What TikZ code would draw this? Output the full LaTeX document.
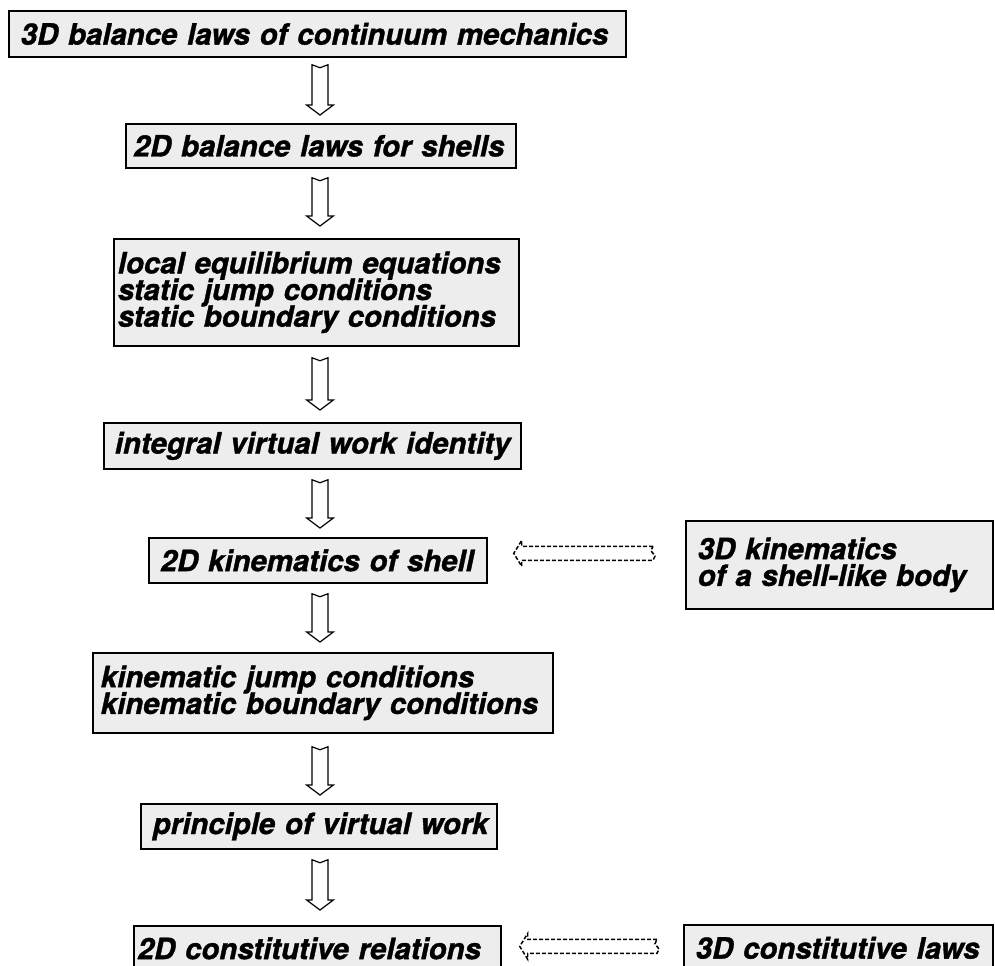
\documentclass[tikz,border=0pt]{standalone}
\usepackage{fontspec}
\setmainfont{TeX Gyre Heros}[BoldItalicFeatures={FakeBold=1.2}]
\usetikzlibrary{calc}
\newcommand\myboxfont{\fontsize{22}{20}\selectfont\lineskiplimit=-20pt\relax\bfseries\itshape}
\tikzset{
  box/.style n args={3}{draw=black, line width=1.3pt, fill=black!7,
    minimum width=#1*0.75pt, minimum height=#2*0.75pt,
    text width=(#1-2*#3)*0.75pt, inner xsep=#3*0.75pt, inner ysep=0pt,
    align=left, anchor=north west, font=\myboxfont},
  hollowdown/.style={draw=black, line width=0.9pt, fill=white,
    to path={let \p1=(\tikztostart), \p2=(\tikztotarget) in
      (\x1-6pt,\y1) -- (\x1,\y1-2.25pt) -- (\x1+6pt,\y1)
      -- (\x1+6pt,\y2+7.5pt) -- (\x1+10pt,\y2+7.5pt) -- (\x1,\y2)
      -- (\x1-10pt,\y2+7.5pt) -- (\x1-6pt,\y2+7.5pt) -- cycle}},
  hollowleft/.style={draw=black, line width=1.1pt, dash pattern=on 3pt off 1.5pt,
    to path={let \p1=(\tikztostart), \p2=(\tikztotarget) in
      (\x1,\y1+5.25pt) -- (\x2+6pt,\y1+5.25pt) -- (\x2+6pt,\y1+9.75pt)
      -- (\x2,\y1) -- (\x2+6pt,\y1-9.75pt) -- (\x2+6pt,\y1-5.25pt)
      -- (\x1,\y1-5.25pt) -- (\x1+1.5pt,\y1-2pt) -- (\x1-1.5pt,\y1+2pt) -- cycle}}
}
\begin{document}
\begin{tikzpicture}[x=0.75pt, y=-0.75pt]
\useasboundingbox (0,0) rectangle (995,965);
\clip (0,0) rectangle (995,965);
\coordinate (ax) at (320,0);
\node[box={617}{46}{12}] (b1) at (8,10) {\mbox{3D balance laws of continuum mechanics}};
\node[box={390}{44}{8}] (b2) at (125,123) {\mbox{2D balance laws for shells}};
\node[box={405}{107}{4}] (b3) at (113,238) {\mbox{local equilibrium equations}\\\mbox{static jump conditions}\\\mbox{static boundary conditions}};
\node[box={417}{46}{11}] (b4) at (103,422) {\mbox{integral virtual work identity}};
\node[box={338}{45}{12}] (b5) at (148,537) {\mbox{2D kinematics of shell}};
\node[box={307}{88}{12}] (b6) at (685,520) {\mbox{3D kinematics}\\\mbox{of a shell-like body}};
\node[box={460}{80}{8}] (b7) at (92,652) {\mbox{kinematic jump conditions}\\\mbox{kinematic boundary conditions}};
\node[box={356}{45}{12}] (b8) at (140,803) {\mbox{principle of virtual work}};
\node[box={367}{45}{4}] (b9) at (133,925) {\mbox{2D constitutive relations}};
\node[box={309}{46}{12}] (b10) at (683,924) {\mbox{3D constitutive laws}};

\draw[hollowdown] ($(b1.south -| ax)+(0,7)$) to ($(b2.north -| ax)+(0,-8)$);
\draw[hollowdown] ($(b2.south -| ax)+(0,9)$) to ($(b3.north -| ax)+(0,-12)$);
\draw[hollowdown] ($(b3.south -| ax)+(0,11)$) to ($(b4.north -| ax)+(0,-12)$);
\draw[hollowdown] ($(b4.south -| ax)+(0,10)$) to ($(b5.north -| ax)+(0,-9)$);
\draw[hollowdown] ($(b5.south -| ax)+(0,10)$) to ($(b7.north -| ax)+(0,-10)$);
\draw[hollowdown] ($(b7.south -| ax)+(0,13)$) to ($(b8.north -| ax)+(0,-8)$);
\draw[hollowdown] ($(b8.south -| ax)+(0,10)$) to ($(b9.north -| ax)+(0,-15)$);

\draw[hollowleft] ($(b6.west |- b5.east)+(-32,-7)$) to ($(b5.east)+(26,-7)$);
\draw[hollowleft] ($(b10.west |- b9.east)+(-26,-2)$) to ($(b9.east)+(18,-2)$);
\end{tikzpicture}
\end{document}
